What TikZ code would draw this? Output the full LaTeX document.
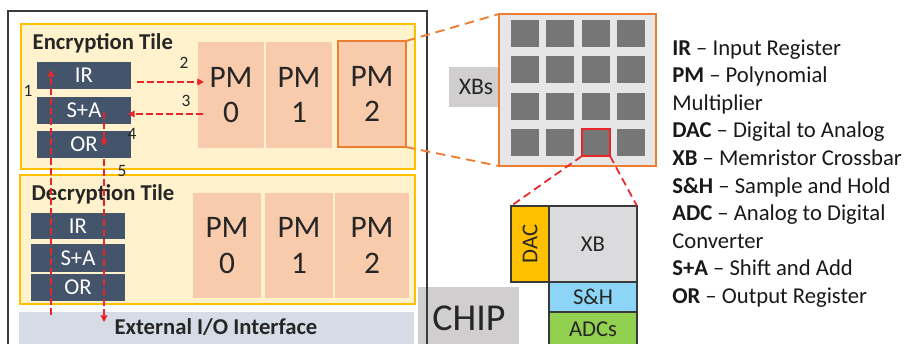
\documentclass[tikz,border=0pt]{standalone}
\usepackage{fontspec}
\setmainfont{Carlito}
\usetikzlibrary{arrows.meta,calc,fit}

\definecolor{chipline}{HTML}{3A3A3A}
\definecolor{tilefill}{HTML}{FFF2CC}
\definecolor{tileedge}{HTML}{FFC000}
\definecolor{regfill}{HTML}{44546A}
\definecolor{pmfill}{HTML}{F8CBAD}
\definecolor{pmedge}{HTML}{ED7D31}
\definecolor{flowred}{HTML}{E8262A}
\definecolor{iofill}{HTML}{D6DCE5}
\definecolor{labelgray}{HTML}{D0CECE}
\definecolor{gridbg}{HTML}{E7E6E6}
\definecolor{cellgray}{HTML}{767676}
\definecolor{dacfill}{HTML}{FFC000}
\definecolor{xbfill}{HTML}{DBDBDD}
\definecolor{shfill}{HTML}{8DD5F6}
\definecolor{adcfill}{HTML}{92D050}
\definecolor{ink}{HTML}{262626}

\tikzset{
  box/.style={inner sep=0pt, outer sep=0pt},
  tile/.style={box, fill=tilefill, draw=tileedge, line width=1.5pt},
  regtext/.style={text=white, inner sep=0pt, font=\fontsize{17}{19}\selectfont},
  reg/.style={box, fill=regfill, label={[regtext]center:#1}},
  pmtext/.style={text=ink, inner sep=0pt, align=center, font=\fontsize{23.5}{26.5}\selectfont},
  pmbox/.style={box, fill=pmfill, label={[pmtext]center:{PM\\#1}}},
  title/.style={anchor=west, text=ink, font=\fontsize{17}{19}\selectfont\bfseries},
  flow/.style={draw=flowred, line width=1.1pt, dash pattern=on 5pt off 2.5pt,
    -{Triangle[length=5pt,width=5pt]}},
  stepnum/.style={text=ink, font=\fontsize{13}{15}\selectfont},
  zoomline/.style={draw=pmedge, line width=1.4pt, dash pattern=on 7pt off 4.5pt},
  zoomred/.style={draw=flowred, line width=1.3pt, dash pattern=on 6pt off 3.5pt},
  cell/.style={fill=cellgray},
  parttext/.style={text=ink, inner sep=0pt, font=\fontsize{17}{19}\selectfont},
  part/.style={box, draw=chipline, line width=0.8pt},
  legend/.style={anchor=base west, inner sep=0pt, text=black!90, font=\fontsize{17}{19}\selectfont},
}

\begin{document}
\begin{tikzpicture}[x=0.75pt,y=-0.75pt]
\useasboundingbox (0,0) rectangle (905,343);

% chip label and outline
\node[box, fill=labelgray, fit={(418,287) (519,345)}] (chiplbl) {};
\node[text=ink, font=\fontsize{28.5}{32}\selectfont] (chiptext) at (469,318) {CHIP};
\draw[chipline, line width=1.2pt] (8,11) rectangle (427,350);

% encryption tile
\node[tile, fit={(21,24) (415,169)}] (enc) {};
\node[title] (enctitle) at (28,43) {Encryption Tile};
\node[reg=IR, fit={(37,62) (131,89)}] (eir) {};
\node[reg=S+A, fit={(37,97) (131,124)}] (esa) {};
\node[reg=OR, fit={(37,131) (131,158)}] (eor) {};
\node[pmbox=0, fit={(198,42) (264,148)}] (epm0) {};
\node[pmbox=1, fit={(266,42) (332,148)}] (epm1) {};
\node[pmbox=2, fit={(338,41) (406,147)}, draw=pmedge, line width=1.6pt] (epm2) {};

% decryption tile
\node[tile, fit={(20,175) (415,304)}] (dec) {};
\node[title] (dectitle) at (27,194) {Decryption Tile};
\node[reg=IR, fit={(31,213) (125,239)}] (dir) {};
\node[reg=S+A, fit={(31,244) (125,272)}] (dsa) {};
\node[reg=OR, fit={(31,274) (125,301)}] (dor) {};
\node[pmbox=0, fit={(193,193) (261,298)}] (dpm0) {};
\node[pmbox=1, fit={(265,193) (333,298)}] (dpm1) {};
\node[pmbox=2, fit={(335,193) (409,298)}] (dpm2) {};

% external interface
\node[box, fill=iofill, fit={(19,312) (414,345)}] (io) {};
\node[text=ink, font=\fontsize{17}{19}\selectfont\bfseries] (iotext) at (216,327) {External I/O Interface};

% data flow inside the encryption tile
\coordinate (f1s) at (51,315);
\coordinate (f1e) at (51,70);
\coordinate (f2s) at (137,82);
\coordinate (f2e) at (204,82);
\coordinate (f3s) at (203,114);
\coordinate (f3e) at (128,114);
\coordinate (f4s) at (104,112);
\coordinate (f4e) at (104,146);
\coordinate (f5s) at (104,159);
\coordinate (f5e) at (104,322);
\draw[flow] (f1s) -- (f1e);
\draw[flow] (f2s) -- (f2e);
\draw[flow] (f3s) -- (f3e);
\draw[flow] (f4s) -- (f4e);
\draw[flow] (f5s) -- (f5e);
\node[stepnum] (n1) at (28,91) {1};
\node[stepnum] (n2) at (184,63) {2};
\node[stepnum] (n3) at (186,101) {3};
\node[stepnum] (n4) at (132,134) {4};
\node[stepnum] (n5) at (122,171) {5};

% crossbar array of one PM
\node[box, fill=labelgray, fit={(449,67) (500,107)}] (xbslbl) {};
\node[text=ink, font=\fontsize{17.8}{20}\selectfont] (xbstext) at (476,87) {XBs};
\node[box, fill=gridbg, draw=pmedge, line width=1.4pt, fit={(499,14) (656,166)}] (grid) {};
\foreach \cx in {511,546,582,617}
  \foreach \cy in {20,56,93,129}
    \fill[cell] (\cx,\cy) rectangle ++(28,27);
\node[box, draw=flowred, line width=1.3pt, fit={(582,129) (610,156)}] (xbsel) {};

% zoom lines
\draw[zoomline] (epm2.north east) -- (grid.north west);
\draw[zoomline] (epm2.south east) -- (grid.south west);

% one crossbar with its periphery
\node[part, fill=dacfill, fit={(511,206) (549,282)},
      label={[parttext, rotate=90]center:DAC}] (dac) {};
\node[part, fill=xbfill, fit={(549,206) (637,282)}, label={[parttext]center:XB}] (xb) {};
\node[part, fill=shfill, fit={(549,282) (637,312)}, label={[parttext]center:S\&H}] (sh) {};
\node[part, fill=adcfill, fit={(549,312) (637,350)}] (adc) {};
\node[parttext] (adctext) at (593,329) {ADCs};
\draw[zoomred] (xbsel.south west) -- (dac.north west);
\draw[zoomred] (xbsel.south east) -- (xb.north east);

% legend
\foreach \t [count=\i] in {
  {\textbf{IR} – Input Register},
  {\textbf{PM} – Polynomial},
  {Multiplier},
  {\textbf{DAC} – Digital to Analog},
  {\textbf{XB} – Memristor Crossbar},
  {\textbf{S\&H} – Sample and Hold},
  {\textbf{ADC} – Analog to Digital},
  {Converter},
  {\textbf{S+A} – Shift and Add},
  {\textbf{OR} – Output Register}}
  \node[legend] (lg\i) at (672,{55+(\i-1)*27.6}) {\t};
\end{tikzpicture}
\end{document}
